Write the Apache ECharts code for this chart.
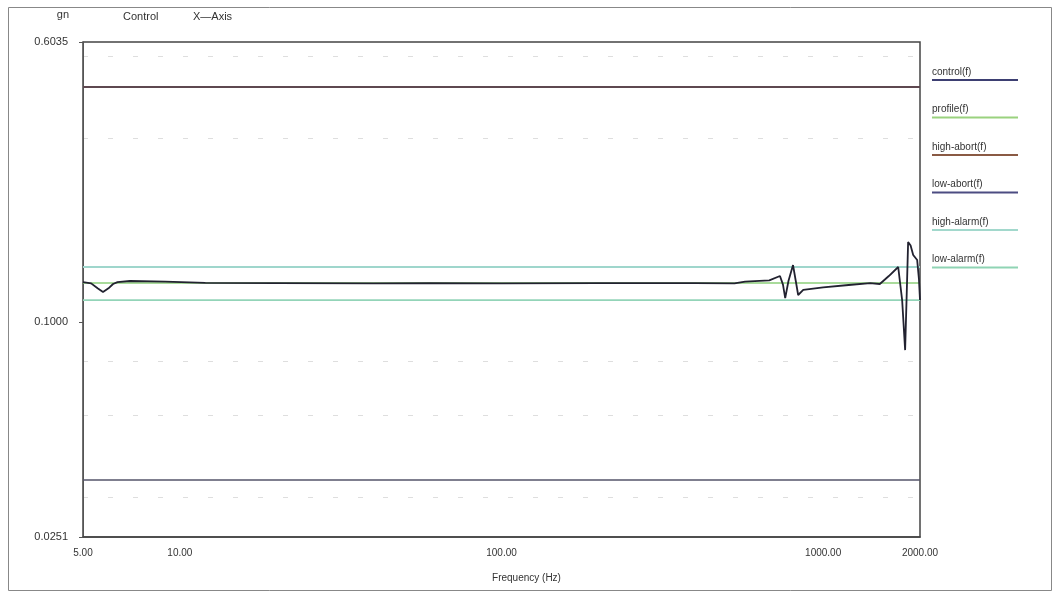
<!DOCTYPE html>
<html>
<head>
<meta charset="utf-8">
<script src="https://cdn.jsdelivr.net/npm/echarts@6/dist/echarts.min.js"></script>
<style>
html,body{margin:0;padding:0;background:#fff;}
#chart{width:1056px;height:592px;}
</style>
</head>
<body>
<div id="chart"></div>
<script>
// ---- data ----
const freqControl = [5.0, 5.3, 5.55, 5.77, 6.0, 6.2, 6.4, 7.0, 9.0, 12, 20, 40, 60, 100, 200, 400, 530, 572, 680, 734, 750, 762, 780, 806, 822, 836, 867, 1000, 1200, 1400, 1500, 1600, 1711, 1760, 1798, 1820, 1837, 1870, 1905, 1960, 1985, 2000];
const valControl  = [0.1291, 0.1280, 0.1240, 0.1211, 0.1240, 0.1275, 0.1291, 0.1300, 0.1295, 0.1285, 0.1283, 0.1280, 0.1283, 0.1280, 0.1283, 0.1283, 0.1280, 0.1295, 0.1305, 0.1342, 0.1270, 0.1165, 0.1300, 0.1440, 0.1300, 0.1188, 0.1227, 0.1247, 0.1267, 0.1283, 0.1275, 0.1342, 0.1422, 0.1150, 0.0834, 0.1227, 0.1670, 0.1632, 0.1536, 0.1487, 0.1315, 0.1150];
const freqRange = [5, 2000];
const profileLevel   = 0.1283;
const highAbortLevel = 0.452;
const lowAbortLevel  = 0.0362;
const highAlarmLevel = 0.1422;
const lowAlarmLevel  = 0.115;
const seriesNames = ['control(f)', 'profile(f)', 'high-abort(f)', 'low-abort(f)', 'high-alarm(f)', 'low-alarm(f)'];
const yTickLabels = [0.0251, 0.1, 0.6035];
const xTickLabels = [5, 10, 100, 1000, 2000];

// ---- styles ----
const lineColors = ['#222230', '#8ccf7a', '#5e4850', '#55556a', '#9fd6cc', '#93d4b8'];
const legendColors = ['#3d3f72', '#9ad27e', '#8a5a44', '#4c4c82', '#a2d8cc', '#8fd4b4'];

function flat(level) { return freqRange.map(f => [f, level]); }
const ctrlData = freqControl.map((f, i) => [f, valControl[i]]);

const rich = { t: { fontSize: 10, color: '#333', fontFamily: 'Liberation Sans', lineHeight: 13 } };
legendColors.forEach((c, i) => { rich['u' + i] = { width: 86, height: 2, lineHeight: 3, fontSize: 1, backgroundColor: c }; });

const txt = { fontSize: 11, fontWeight: 'normal', color: '#333', fontFamily: 'Liberation Sans' };

const chart = echarts.init(document.getElementById('chart'));
chart.setOption({
  animation: false,
  backgroundColor: '#fff',
  textStyle: { fontFamily: 'Liberation Sans' },
  title: [
    { text: 'Control', left: 118, top: 6, textStyle: txt },
    { text: 'X\u2014Axis', left: 188, top: 6, textStyle: txt }
  ],
  graphic: [{
    type: 'rect', left: 6, top: 5, silent: true,
    shape: { width: 1043, height: 583 },
    style: { fill: 'none', stroke: '#888', lineWidth: 1 }
  }],
  grid: { left: 83, right: 136, top: 42, bottom: 55, show: true, borderColor: '#444', borderWidth: 1.5, backgroundColor: 'transparent' },
  legend: {
    data: seriesNames,
    orient: 'vertical', left: 922, top: 62, itemGap: 23.5,
    icon: 'rect', itemWidth: 0, itemHeight: 0,
    formatter: name => '{t|' + name + '}\n{u' + seriesNames.indexOf(name) + '| }',
    textStyle: { rich: rich }
  },
  xAxis: {
    type: 'log', logBase: 10, min: 5, max: 2000,
    name: 'Frequency (Hz)', nameLocation: 'middle', nameGap: 36,
    nameTextStyle: { fontSize: 10, color: '#333', padding: [0, 0, 0, 50] },
    axisLine: { show: true, lineStyle: { color: '#444', width: 1.5 } },
    axisTick: { show: false },
    axisLabel: { customValues: xTickLabels, formatter: v => Number(v).toFixed(2), fontSize: 10, color: '#333', margin: 11 },
    splitLine: { show: false }
  },
  yAxis: {
    type: 'log', logBase: 10, min: 0.0251, max: 0.6035,
    name: 'gn', nameLocation: 'end', nameGap: 22,
    nameTextStyle: { fontSize: 11, color: '#333', align: 'right', padding: [0, 14, 0, 0] },
    axisLine: { show: true, lineStyle: { color: '#555', width: 1 } },
    axisTick: { show: true, customValues: yTickLabels, length: 4, lineStyle: { color: '#555' } },
    axisLabel: { customValues: yTickLabels, formatter: v => Number(v).toFixed(4), fontSize: 11, color: '#333', margin: 15 },
    splitLine: { show: false },
    minorTick: { show: false, splitNumber: 4 },
    minorSplitLine: { show: true, lineStyle: { color: '#dedede', type: [5, 20], width: 1 } }
  },
  series: [
    { name: seriesNames[0], type: 'line', data: ctrlData, symbol: 'none', z: 10, lineStyle: { color: lineColors[0], width: 1.8 }, itemStyle: { color: lineColors[0] } },
    { name: seriesNames[1], type: 'line', data: flat(profileLevel), symbol: 'none', z: 5, lineStyle: { color: lineColors[1], width: 1.5 }, itemStyle: { color: lineColors[1] } },
    { name: seriesNames[2], type: 'line', data: flat(highAbortLevel), symbol: 'none', z: 5, lineStyle: { color: lineColors[2], width: 1.8 }, itemStyle: { color: lineColors[2] } },
    { name: seriesNames[3], type: 'line', data: flat(lowAbortLevel), symbol: 'none', z: 5, lineStyle: { color: lineColors[3], width: 1.6 }, itemStyle: { color: lineColors[3] } },
    { name: seriesNames[4], type: 'line', data: flat(highAlarmLevel), symbol: 'none', z: 5, lineStyle: { color: lineColors[4], width: 1.8 }, itemStyle: { color: lineColors[4] } },
    { name: seriesNames[5], type: 'line', data: flat(lowAlarmLevel), symbol: 'none', z: 5, lineStyle: { color: lineColors[5], width: 1.8 }, itemStyle: { color: lineColors[5] } }
  ]
});
</script>
</body>
</html>
